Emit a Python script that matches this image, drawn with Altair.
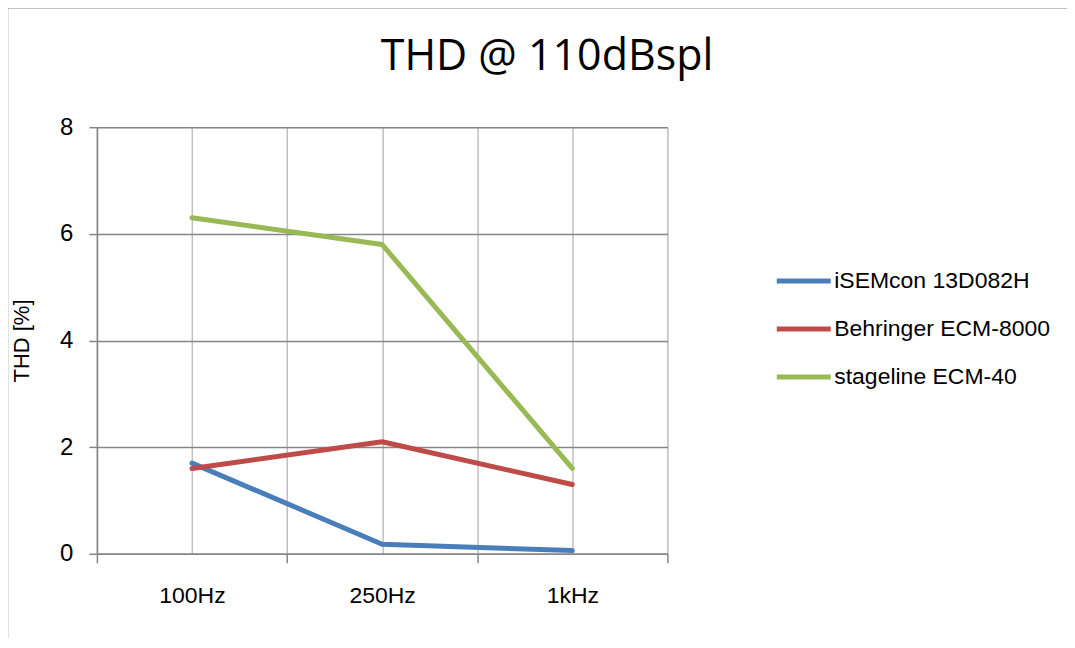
import altair as alt
import pandas as pd

categories = ["100Hz", "250Hz", "1kHz"]
series_names = ["iSEMcon 13D082H", "Behringer ECM-8000", "stageline ECM-40"]
isemcon = [1.7, 0.18, 0.06]
behringer = [1.6, 2.1, 1.3]
stageline = [6.3, 5.8, 1.6]
series_colors = ["#4A7EBB", "#BE4B48", "#98B954"]
y_ticks = [0, 2, 4, 6, 8]

rows = []
for name, vals in zip(series_names, [isemcon, behringer, stageline]):
    for i, (cat, v) in enumerate(zip(categories, vals)):
        rows.append({"series": name, "cat": cat, "idx": i, "thd": v})
df = pd.DataFrame(rows)

x_values = [i * 0.5 - 0.5 for i in range(2 * len(categories) + 1)]
cat_js = "[" + ",".join("'" + c + "'" for c in categories) + "]"

LABEL_FONT = "Liberation Sans"
GRID_DARK = "#868686"
GRID_LIGHT = "#c0c0c0"

lines = alt.Chart(df).mark_line(strokeWidth=5, strokeCap="round", strokeJoin="round").encode(
    x=alt.X(
        "idx:Q",
        scale=alt.Scale(domain=[-0.5, len(categories) - 0.5], nice=False, zero=False),
        axis=alt.Axis(
            values=x_values,
            grid=True,
            gridColor=GRID_LIGHT,
            gridWidth=1.5,
            domainColor=GRID_DARK,
            domainWidth=1.5,
            tickColor=GRID_DARK,
            tickWidth=1.5,
            tickSize=9,
            tickOpacity={"condition": {"test": "datum.value % 1 === 0", "value": 0}, "value": 1},
            labelExpr="datum.value % 1 === 0 ? " + cat_js + "[datum.value] : ''",
            labelFont=LABEL_FONT,
            labelFontSize=23,
            labelColor="black",
            labelPadding=22,
            labelOverlap=False,
            labelFlush=False,
            title=None,
        ),
    ),
    y=alt.Y(
        "thd:Q",
        scale=alt.Scale(domain=[0, 8], nice=False),
        axis=alt.Axis(
            values=y_ticks,
            grid=True,
            gridColor=GRID_DARK,
            gridWidth=1.5,
            domainColor=GRID_DARK,
            domainWidth=1.5,
            tickColor=GRID_DARK,
            tickWidth=1.5,
            tickSize=8,
            labelFont=LABEL_FONT,
            labelFontSize=24,
            labelColor="black",
            labelPadding=16,
            title="THD [%]",
            titleFont=LABEL_FONT,
            titleFontSize=22,
            titleFontWeight="normal",
            titleColor="black",
            titlePadding=26,
        ),
    ),
    color=alt.Color(
        "series:N",
        scale=alt.Scale(domain=series_names, range=series_colors),
        legend=alt.Legend(
            orient="none",
            legendX=678,
            legendY=139,
            title=None,
            symbolType="stroke",
            symbolSize=2916,
            symbolStrokeWidth=5,
            labelFont="Liberation Sans",
            labelFontSize=23,
            labelColor="black",
            labelOffset=1,
            labelLimit=400,
            clipHeight=30,
            rowPadding=18,
            padding=0,
        ),
    ),
    order=alt.Order("idx:Q"),
)

frame = alt.Chart(pd.DataFrame({"a": [0]})).mark_rect(
    fillOpacity=0, stroke=GRID_DARK, strokeWidth=1.5
).encode(
    x=alt.value(-89.5), x2=alt.value(1500), y=alt.value(-119.5), y2=alt.value(1000)
)

chart = alt.layer(frame, lines).properties(
    width=571,
    height=427,
    autosize=alt.AutoSizeParams(type="none"),
    padding={"left": 89, "top": 119, "right": 400, "bottom": 84},
    title=alt.TitleParams(
        "THD @ 110dBspl",
        font="Open Sans",
        fontSize=43,
        fontWeight="normal",
        color="black",
        anchor="middle",
        frame="group",
        dx=165,
        offset=-106,
        baseline="alphabetic",
    ),
).configure_view(stroke=None).configure(background="white")

chart.save("out.html", embed_options={"renderer": "svg", "actions": False})
